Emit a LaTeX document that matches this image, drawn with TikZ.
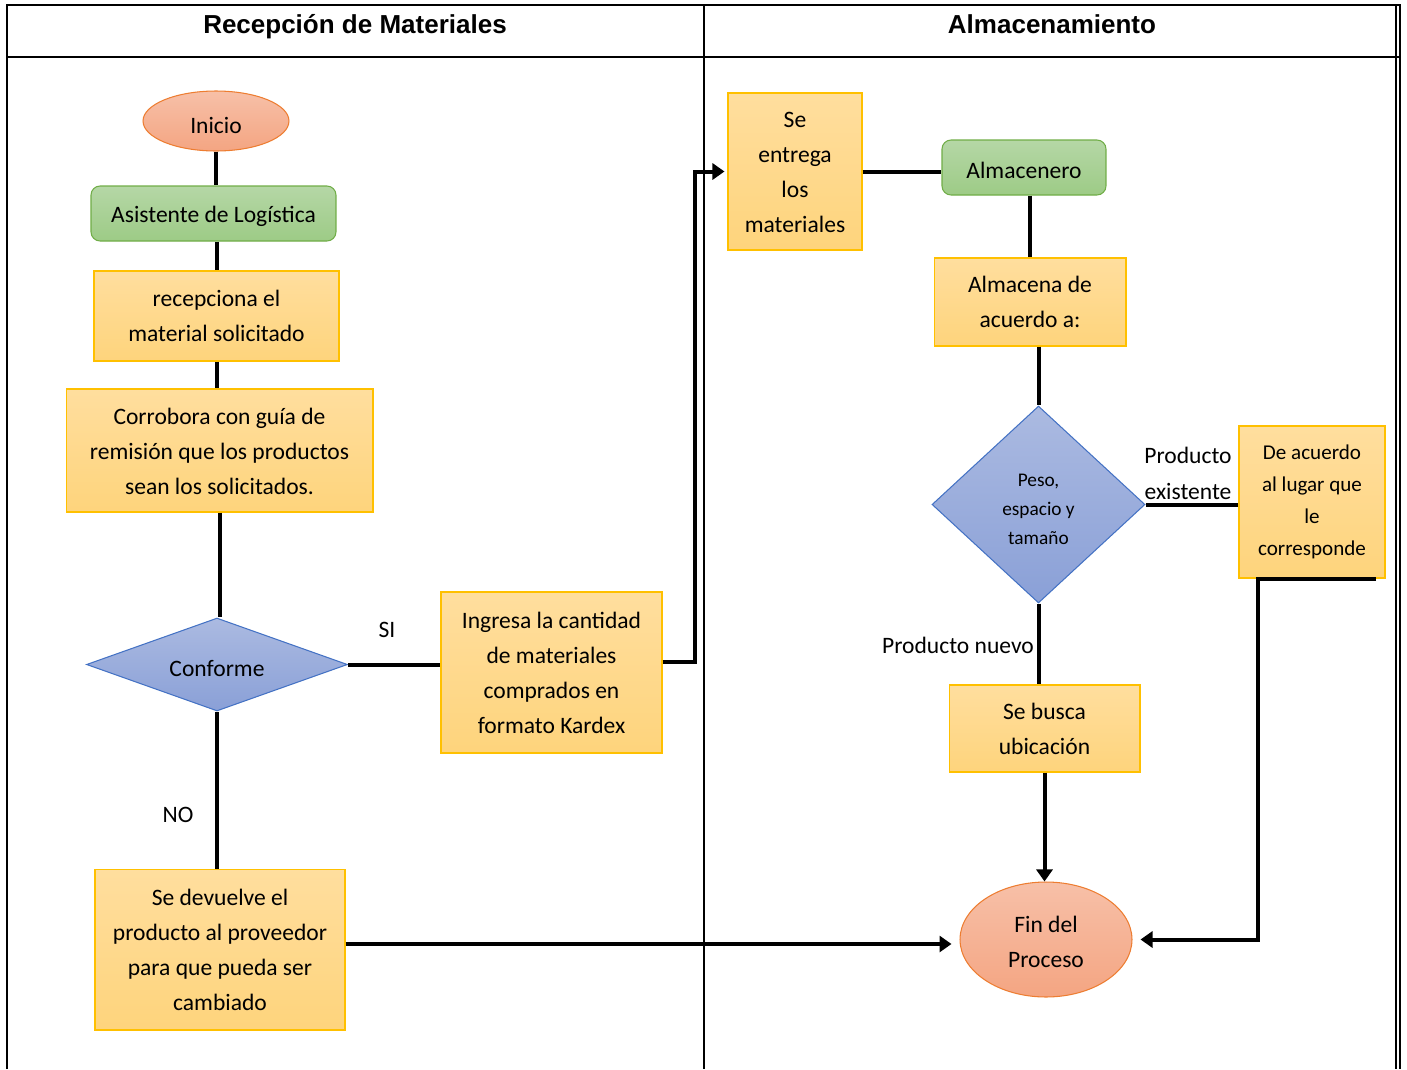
\documentclass[tikz,border=0pt]{standalone}
\usepackage{fontspec}
\setmainfont{Carlito}
\newfontfamily\hdrfont{Liberation Sans}
\usetikzlibrary{shapes.geometric,arrows.meta}
\newcommand{\lowr}[2][2.2pt]{\raisebox{-#1}[\height][\depth]{#2}}
\newcommand{\stk}[1]{\begin{tabular}{@{}c@{}}#1\end{tabular}}
\definecolor{boxtop}{HTML}{FFDE9E}
\definecolor{boxbot}{HTML}{FED47C}
\definecolor{boxline}{HTML}{FFC000}
\definecolor{grntop}{HTML}{B5D7A6}
\definecolor{grnbot}{HTML}{9DCB86}
\definecolor{grnline}{HTML}{70AD47}
\definecolor{orgtop}{HTML}{F7C0A8}
\definecolor{orgbot}{HTML}{F4A582}
\definecolor{orgline}{HTML}{ED7D31}
\definecolor{blutop}{HTML}{ABBAE1}
\definecolor{blubot}{HTML}{8AA0D7}
\definecolor{bluline}{HTML}{4472C4}
\tikzset{
  bodyfont/.style={font=\fontsize{13.4}{19.9}\selectfont},
  procbox/.style={rectangle, draw=boxline, line width=0.6pt, top color=boxtop, bottom color=boxbot, inner sep=0pt, align=center, bodyfont},
  actorbox/.style={rectangle, rounded corners=0.18cm, draw=grnline, line width=0.6pt, top color=grntop, bottom color=grnbot, inner sep=0pt, align=center, bodyfont},
  termnode/.style={ellipse, draw=orgline, line width=0.6pt, top color=orgtop, bottom color=orgbot, inner sep=0pt, align=center, bodyfont},
  decnode/.style={diamond, aspect=2.8, draw=bluline, line width=0.6pt, top color=blutop, bottom color=blubot, inner sep=0pt, align=center, bodyfont},
  lbl/.style={inner sep=0pt, align=center, bodyfont},
  conn/.style={line width=0.08cm, black},
  arr/.style={conn, -{Triangle[length=0.24cm,width=0.32cm]}},
  lane/.style={line width=0.035cm, black},
  hdr/.style={inner sep=0pt, anchor=base, font=\hdrfont\bfseries\fontsize{14.8}{18}\selectfont}
}
\begin{document}
\begin{tikzpicture}[x=0.02cm,y=-0.02cm]
\useasboundingbox (0,0) rectangle (1407,1069);
% table / lanes
\draw[lane] (7,1069) -- (7,5) -- (1400,5) -- (1400,1069);
\draw[lane] (1396,5) -- (1396,1069);
\draw[lane] (7,57) -- (1400,57);
\draw[lane] (704,5) -- (704,1069);
\node[hdr] (h1) at (355,33) {Recepción de Materiales};
\node[hdr] (h2) at (1052,33) {Almacenamiento};
% left lane
\node[termnode, minimum width=2.92cm, minimum height=1.2cm] (ini) at (216,121) {\lowr[2.6pt]{Inicio}};
\node[actorbox, minimum width=4.9cm, minimum height=1.1cm] (asis) at (213.5,213.5) {\lowr[1.8pt]{Asistente de Logística}};
\node[procbox, minimum width=4.9cm, minimum height=1.8cm] (rec) at (216.5,316) {recepciona el\\material solicitado};
\node[procbox, minimum width=6.14cm, minimum height=2.46cm] (cor) at (219.5,450.5) {\lowr[1pt]{\stk{Corrobora con guía de\\remisión que los productos\\sean los solicitados.}}};
\node[decnode, minimum width=5.22cm, minimum height=1.86cm] (conf) at (217,664.5) {\lowr{Conforme}};
\node[procbox, minimum width=4.42cm, minimum height=3.22cm] (ing) at (551.5,672.5) {Ingresa la cantidad\\de materiales\\comprados en\\formato Kardex};
\node[procbox, minimum width=5.0cm, minimum height=3.22cm] (dev) at (220,949.5) {Se devuelve el\\producto al proveedor\\para que pueda ser\\cambiado};
\node[lbl] (si) at (387,630) {SI};
\node[lbl] (no) at (178,815) {NO};
% right lane
\node[procbox, minimum width=2.68cm, minimum height=3.14cm] (ent) at (795,171.5) {\lowr[1pt]{\stk{Se\\entrega\\los\\materiales}}};
\node[actorbox, minimum width=3.28cm, minimum height=1.1cm] (alm) at (1024,167.5) {\lowr[1.8pt]{Almacenero}};
\node[procbox, minimum width=3.84cm, minimum height=1.76cm] (alma) at (1030,302) {Almacena de\\acuerdo a:};
\node[decnode, aspect=1, minimum width=4.26cm, minimum height=3.94cm, font=\fontsize{11}{16.4}\selectfont] (dia) at (1038.5,504.5) {\lowr[2.8pt]{\stk{Peso,\\espacio y\\tamaño}}};
\node[procbox, minimum width=2.92cm, minimum height=3.04cm, font=\fontsize{12}{18.1}\selectfont] (acu) at (1312,502) {De acuerdo\\al lugar que\\le\\corresponde};
\node[procbox, minimum width=3.82cm, minimum height=1.74cm] (bus) at (1044.5,728.5) {Se busca\\ubicación};
\node[termnode, minimum width=3.44cm, minimum height=2.3cm] (fin) at (1046,939.5) {\lowr{\stk{Fin del\\Proceso}}};
\node[lbl, font=\fontsize{13.4}{20.4}\selectfont] (pex) at (1188,473) {Producto\\existente};
\node[lbl] (pnu) at (958,645) {Producto nuevo};
% helper coordinates
\coordinate (yA) at (0,662);
\coordinate (yB) at (0,944);
\coordinate (xA) at (1376,0);
\coordinate (xB) at (1258,0);
% connectors left
\draw[conn] (ini.south) -- (ini.south |- asis.north);
\draw[conn] (rec.north |- asis.south) -- (rec.north);
\draw[conn] (rec.south) -- (rec.south |- cor.north);
\draw[conn] (cor.south) -- (cor.south |- conf.north);
\draw[conn] (conf.south) -- (conf.south |- dev.north);
\draw[conn] (conf.east) -- (conf.east -| ing.west);
\draw[arr, shorten >=0.06cm] (ing.east |- yA) -- ++(32,0) |- (ent.west);
\draw[arr, shorten >=0.16cm] (dev.east |- yB) -- (fin.west |- yB);
% connectors right
\draw[conn] (ent.east) -- (ent.east -| alm.west);
\draw[conn] (alma.north |- alm.south) -- (alma.north);
\draw[conn] (dia.north |- alma.south) -- (dia.north);
\draw[conn] (dia.east) -- (dia.east -| acu.west);
\draw[conn] (dia.south) -- (dia.south |- bus.north);
\draw[arr] (bus.south) -- (bus.south |- fin.north);
\draw[arr, shorten >=0.16cm] (acu.south -| xA) -- (acu.south -| xB) |- (fin.east);
\end{tikzpicture}
\end{document}
